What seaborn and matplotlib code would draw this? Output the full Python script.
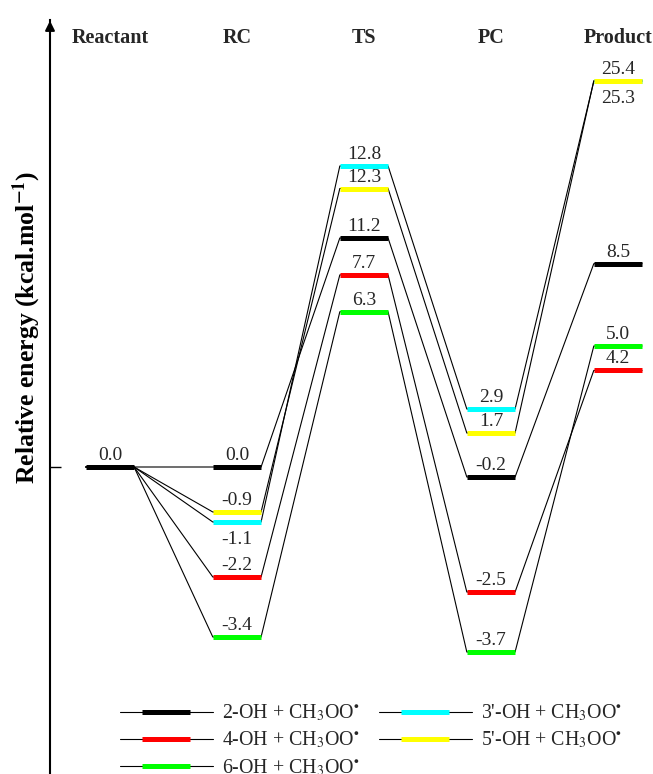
import numpy as np
import pandas as pd
import matplotlib
matplotlib.use("Agg")
import matplotlib.pyplot as plt
import matplotlib.transforms as mtransforms
from matplotlib.lines import Line2D
import seaborn as sns

# ---------------- data ----------------
stages = ["Reactant", "RC", "TS", "PC", "Product"]
series = ["2-OH", "4-OH", "6-OH", "3'-OH", "5'-OH"]
colors = ["#000000", "#FF0000", "#00FF00", "#00FFFF", "#FFFF00"]
e_2OH = [0.0, 0.0, 11.2, -0.2, 8.5]
e_4OH = [0.0, -2.2, 7.7, -2.5, 4.2]
e_6OH = [0.0, -3.4, 6.3, -3.7, 5.0]
e_3pOH = [0.0, -1.1, 12.8, 2.9, 25.3]
e_5pOH = [0.0, -0.9, 12.3, 1.7, 25.4]
energies = [e_2OH, e_4OH, e_6OH, e_3pOH, e_5pOH]
legend_labels = [s + r" + CH$_3$OO$^{\bullet}$" for s in series]

# ---------------- style ----------------
sns.set_theme(style="white")
plt.rcParams["font.family"] = ["Liberation Serif", "DejaVu Serif"]
plt.rcParams["mathtext.fontset"] = "stix"

# schematic (piecewise-linear) energy scale, as in the original diagram
_kv = np.array([-8.0, 0.0, 3.0, 5.0, 8.0, 11.0, 13.0, 26.0, 40.0])
_kd = np.array([-400.0, 0.0, 60.0, 121.0, 200.0, 220.0, 310.0, 390.0, 487.0])
def fwd(v):
    return np.interp(v, _kv, _kd)
def inv(d):
    return np.interp(d, _kd, _kv)

W, H = 653, 774
fig = plt.figure(figsize=(W / 100, H / 100), dpi=100)
ax = fig.add_axes([50 / W, 0, 603 / W, 754 / H])
ax.set_yscale("function", functions=(fwd, inv))
ax.set_ylim(inv(-307), inv(447))
ax.set_xlim(-0.472, 4.276)

hw = 0.19  # half width of a level bar (stage units)

# connector paths (thin black lines) through seaborn
rows = []
for s, e in zip(series, energies):
    for i, v in enumerate(e):
        for xx in (i - hw, i + hw):
            rows.append(dict(series=s, x=xx, energy=v))
df = pd.DataFrame(rows)
sns.lineplot(data=df, x="x", y="energy", units="series", estimator=None,
             sort=False, color="black", lw=0.8, ax=ax, legend=False)

# level bars
for s, e, c in zip(series, energies, colors):
    for i, v in enumerate(e):
        if i == 0 and s != series[0]:
            continue
        ax.hlines(v, i - hw, i + hw, color=c, lw=3.6, zorder=3)

# value labels (above the level; below it when a level sits right above)
for i in range(len(stages)):
    vals = []
    for s, e in zip(series, energies):
        if i == 0 and s != series[0]:
            continue
        vals.append(e[i])
    d = [fwd(v) for v in vals]
    for j, v in enumerate(vals):
        above_gap = min([dd - d[j] for dd in d if dd > d[j]], default=999)
        if above_gap < 19:
            ax.annotate(f"{v:.1f}", (i, v), xytext=(0, -15.5), textcoords="offset points",
                        ha="center", va="baseline", fontsize=14, zorder=4)
        else:
            ax.annotate(f"{v:.1f}", (i, v), xytext=(0, 5), textcoords="offset points",
                        ha="center", va="baseline", fontsize=14, zorder=4)

# stage headers
trans = mtransforms.blended_transform_factory(ax.transData, ax.transAxes)
for i, st in enumerate(stages):
    ax.text(i, (H - 38) / 754, st, transform=trans, ha="center", va="center",
            fontsize=14.5, fontweight="bold")

# axes styling
for sp in ["top", "right", "bottom"]:
    ax.spines[sp].set_visible(False)
ax.spines["left"].set_linewidth(1.5)
ax.spines["left"].set_color("black")
ax.set_xticks([])
ax.set_yticks([0.0])
ax.set_yticklabels([])
ax.tick_params(axis="y", direction="in", length=8, width=1, colors="black", left=True)
ax.set_xlabel("")
ax.set_ylabel(r"Relative energy (kcal.mol$^{\mathbf{-1}}$)", fontsize=18.5,
              fontweight="bold", color="black")
ax.yaxis.set_label_coords(-0.012, (H - 327) / 754)
ax.annotate("", xy=(0, 1.0 + 2 / 754), xytext=(0, 0.98), xycoords="axes fraction",
            arrowprops=dict(arrowstyle="-|>", color="black", lw=1.5, mutation_scale=14),
            annotation_clip=False)

# legend
handles = [Line2D([], [], color="black", lw=0.8, marker="_", markersize=34,
                  markeredgewidth=3.6, markeredgecolor=c) for c in colors]
fig.legend(handles, legend_labels, loc="upper left", bbox_to_anchor=(120 / W, (H - 703) / H),
           ncol=2, frameon=False, fontsize=14.3, handlelength=4.67, handletextpad=0.45,
           columnspacing=1.0, labelspacing=0.32, borderpad=0, borderaxespad=0,
           numpoints=1)

fig.savefig("out.png", dpi=100)
